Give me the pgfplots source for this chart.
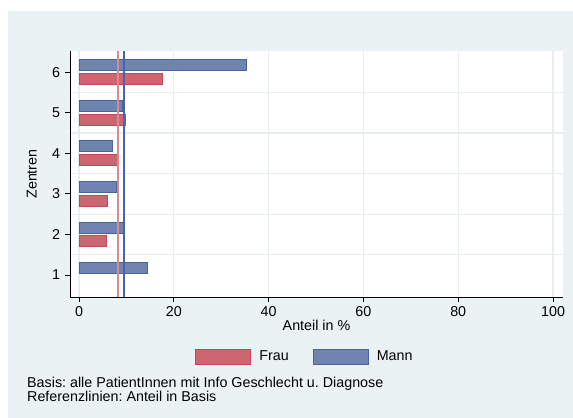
\documentclass[border=0pt]{standalone}
\usepackage{pgfplots}
\pgfplotsset{compat=1.18}
\usepackage{fontspec}
\setmainfont{Liberation Sans}
\definecolor{bgcol}{RGB}{234,242,243}
\definecolor{gridcol}{RGB}{230,238,240}
\definecolor{frauFill}{RGB}{204,102,112}
\definecolor{frauDraw}{RGB}{192,72,88}
\definecolor{frauLine}{RGB}{217,138,149}
\definecolor{mannFill}{RGB}{112,132,176}
\definecolor{mannDraw}{RGB}{74,98,160}
\definecolor{mannLine}{RGB}{74,98,166}
\newcommand{\fs}{\fontsize{14.3bp}{14.3bp}\selectfont}
\frenchspacing
\begin{document}
\fs
\begin{tikzpicture}
\fill[white] (0,0) rectangle (573bp,418bp);
\fill[bgcol] (8bp,0) rectangle (573bp,407bp);
\begin{axis}[
  scale only axis,
  width=493bp, height=246bp,
  at={(70bp,121bp)}, anchor=south west,
  xmin=-1.9, xmax=102.1,
  ymin=0.46, ymax=6.52,
  axis background/.style={fill=white},
  axis lines*=left,
  axis line style={black, line width=0.8bp},
  xtick={0,20,40,60,80,100},
  ytick={1,2,3,4,5,6},
  minor ytick={1.5,2.5,3.5,4.5,5.5},
  minor tick length=0pt,
  major tick length=5bp,
  tick align=outside,
  tick style={black, line width=0.8bp},
  xmajorgrids=true,
  yminorgrids=true,
  ymajorgrids=false,
  major grid style={gridcol, line width=1.2bp},
  minor grid style={gridcol, line width=1.2bp},
  /pgf/number format/assume math mode=true,
  ticklabel style={font=\fs},
  xlabel={Anteil in \%},
  ylabel={Zentren},
  xlabel style={at={(axis description cs:0.5,-0.137)}, anchor=base, inner sep=0pt, font=\fs},
  ylabel style={at={(axis description cs:-0.0675,0.5)}, anchor=base, inner sep=0pt, font=\fs},
  legend columns=2,
  legend style={at={(axis description cs:0.4746,-0.244)}, anchor=center, draw=none, fill=none,
    font=\fs,
    nodes={inner sep=0pt},
    /tikz/every odd column/.append style={column sep=8bp},
    /tikz/every even column/.append style={column sep=24bp}},
  legend image code/.code={\draw[#1] (0bp,-7.3bp) rectangle (55bp,7.3bp);},
  clip=true,
]
\addplot[xbar, bar width=11bp, bar shift=-6.8bp, fill=frauFill, draw=frauDraw, line width=1bp]
  coordinates {(5.8,2) (6.0,3) (8.3,4) (9.8,5) (17.6,6)};
\addlegendentry{Frau}
\addplot[xbar, bar width=11bp, bar shift=6.8bp, fill=mannFill, draw=mannDraw, line width=1bp]
  coordinates {(14.4,1) (9.5,2) (7.9,3) (7.0,4) (9.1,5) (35.4,6)};
\addlegendentry{Mann}
\addplot[frauLine, line width=1.6bp, forget plot] coordinates {(8.2,0.46) (8.2,6.52)};
\addplot[mannLine, line width=1.2bp, forget plot] coordinates {(9.5,0.46) (9.5,6.52)};
\end{axis}
\node[anchor=base west, inner sep=0pt] at (27bp,30.7bp) {Basis: alle PatientInnen mit Info Geschlecht u. Diagnose};
\node[anchor=base west, inner sep=0pt] at (27bp,17bp) {Referenzlinien: Anteil in Basis};
\end{tikzpicture}
\end{document}
